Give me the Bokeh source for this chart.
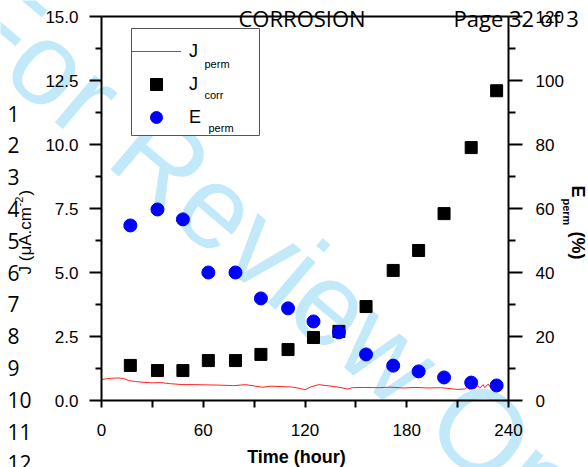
from bokeh.plotting import figure
from bokeh.models import (Range1d, LinearAxis, FixedTicker, Label, Legend,
                          LegendItem, NumeralTickFormatter, BoxAnnotation)
from bokeh.embed import file_html
from bokeh.resources import INLINE

# ---------------- data ----------------
sample_time = [17, 33, 48, 63, 79, 94, 110, 125, 140, 156, 172, 187, 202, 218, 233]
j_corr = [1.37, 1.17, 1.17, 1.56, 1.56, 1.80, 1.99, 2.46, 2.70, 3.67, 5.08, 5.86, 7.30, 9.88, 12.10]
e_perm = [54.7, 59.7, 56.6, 40.0, 40.0, 31.9, 28.8, 24.7, 21.3, 14.4, 10.9, 9.1, 7.2, 5.6, 4.7]

perm_time = [0, 3, 6, 10, 13, 16, 20, 25, 30, 35, 40, 48, 55, 62, 70, 78, 85, 90, 95,
             100, 107, 112, 117, 120, 123, 128, 133, 140, 145, 148, 155, 163, 170, 178,
             185, 193, 200, 205, 210, 214, 216, 217, 219, 220, 222, 223, 225, 226, 228,
             229, 231, 232, 233]
j_perm = [0.82, 0.85, 0.87, 0.88, 0.86, 0.78, 0.74, 0.71, 0.69, 0.70, 0.66, 0.62, 0.62,
          0.61, 0.60, 0.58, 0.62, 0.57, 0.52, 0.56, 0.54, 0.53, 0.47, 0.42, 0.52, 0.62,
          0.58, 0.52, 0.45, 0.50, 0.51, 0.50, 0.52, 0.49, 0.51, 0.49, 0.50, 0.47, 0.43,
          0.45, 0.52, 0.44, 0.56, 0.46, 0.58, 0.48, 0.62, 0.50, 0.64, 0.54, 0.66, 0.58, 0.62]

x_ticks = [0, 60, 120, 180, 240]
x_minor = [30, 90, 150, 210]
y_ticks = [0, 2.5, 5, 7.5, 10, 12.5, 15]
y_minor = [1.25, 3.75, 6.25, 8.75, 11.25, 13.75]
e_ticks = [0, 20, 40, 60, 80, 100, 120]
e_minor = [10, 30, 50, 70, 90, 110]

X0, X1, Y0, Y1, E0, E1 = 0, 240, 0, 15, 0, 120

# ---------------- page geometry (decorations only) ----------------
W, H = 588, 467
PX0, PX1, PY0, PY1 = 101, 508, 400, 16   # data box edges in page pixels


def hrange(lo, hi):
    k = (hi - lo) / (PX1 - PX0)
    return Range1d(lo - PX0 * k, hi + (W - PX1) * k)


def vrange(lo, hi):
    k = (hi - lo) / (PY0 - PY1)
    return Range1d(lo - (H - PY0) * k, hi + PY1 * k)


p = figure(width=W, height=H, output_backend="svg", toolbar_location=None,
           x_range=hrange(X0, X1), y_range=vrange(Y0, Y1), min_border=0)
p.extra_y_ranges = {"e": vrange(E0, E1)}
p.title.visible = False
p.xgrid.visible = False
p.ygrid.visible = False
p.background_fill_color = "white"
p.border_fill_color = "white"
p.outline_line_color = None

TICK_FONT = "Liberation Sans"


def sx(px):
    return px


def sy(py):
    return H - py


# watermark (beneath everything else)
p.add_layout(Label(x=sx(300), y=sy(277), x_units="screen", y_units="screen",
                   text="For Review Only", angle=-40.3, angle_units="deg",
                   text_align="center", text_baseline="middle",
                   text_font="Liberation Sans", text_font_size="117px",
                   text_color="#c2e9fa", level="underlay"))

# legend frame (white box hiding the watermark)
p.add_layout(BoxAnnotation(left=sx(131), right=sx(259), top=sy(28), bottom=sy(135),
                           left_units="screen", right_units="screen",
                           top_units="screen", bottom_units="screen",
                           fill_color="white", fill_alpha=1, line_color="#555555",
                           line_width=1, line_alpha=1, level="underlay"))

# axes (drawn at the data box edges)
xa = p.xaxis[0]
xa.ticker = FixedTicker(ticks=x_ticks, minor_ticks=x_minor)
xa.fixed_location = Y0
xa.bounds = (X0, X1)
ya = p.yaxis[0]
ya.ticker = FixedTicker(ticks=y_ticks, minor_ticks=y_minor)
ya.formatter = NumeralTickFormatter(format="0.0")
ya.fixed_location = X0
ya.bounds = (Y0, Y1)
ra = LinearAxis(y_range_name="e", ticker=FixedTicker(ticks=e_ticks, minor_ticks=e_minor),
                fixed_location=X1, bounds=(E0, E1))
p.add_layout(ra, "right")
ta = LinearAxis(ticker=FixedTicker(ticks=[], minor_ticks=[]), fixed_location=Y1,
                bounds=(X0, X1), major_label_text_alpha=0)
p.add_layout(ta, "above")

for ax in (xa, ya, ra, ta):
    ax.axis_line_width = 2
    ax.axis_line_color = "black"
    ax.major_tick_line_width = 2
    ax.minor_tick_line_width = 2
    ax.major_tick_in = 0
    ax.minor_tick_in = 0
    ax.major_label_text_font = TICK_FONT
    ax.major_label_text_font_size = "17px"
    ax.major_label_text_color = "black"

ta.major_tick_out = 0
ta.minor_tick_out = 0
xa.major_tick_out = 7
xa.minor_tick_out = 7
xa.major_label_standoff = 16
ya.major_tick_out = 12
ya.minor_tick_out = 6
ya.major_label_standoff = 11
ra.major_tick_out = 14
ra.minor_tick_out = 7
ra.major_label_standoff = 13

# data
line = p.line(perm_time, j_perm, line_color="#ff2020", line_width=1)
sq = p.scatter(sample_time, j_corr, marker="square", size=12, fill_color="black",
               line_color="black")
ci = p.scatter(sample_time, e_perm, marker="circle", size=13, fill_color="#0000ff",
               line_color="#0000ff", y_range_name="e")

legend = Legend(items=[LegendItem(label="J", renderers=[line]),
                       LegendItem(label="J", renderers=[sq]),
                       LegendItem(label="E", renderers=[ci])],
                location=(131, H - 132), margin=0, padding=6, spacing=3,
                glyph_width=50, glyph_height=30, label_standoff=8, label_width=58,
                label_text_font=TICK_FONT, label_text_font_size="18px",
                label_text_color="black", border_line_color=None,
                background_fill_alpha=0)
p.add_layout(legend)


def lab(px, py, text, size, font=TICK_FONT, style="normal", align="left",
        baseline="alphabetic", angle=0.0):
    p.add_layout(Label(x=sx(px), y=sy(py), x_units="screen", y_units="screen",
                       text=text, text_font=font, level="overlay",
                       text_font_size=size, text_font_style=style, text_align=align,
                       text_baseline=baseline, angle=angle, angle_units="deg",
                       text_color="black"))


# legend subscripts
lab(204, 63, "perm", "11px")
lab(204, 94, "corr", "11px")
lab(208, 127, "perm", "11px")

# axis titles
lab(296, 456, "Time (hour)", "18px", style="bold", align="center")
lab(25, 274, "J (μA.cm", "17px", angle=90)
lab(18, 206, "-2", "11px", angle=90)
lab(25, 195, ")", "17px", angle=90)
lab(577, 185, "E", "18px", style="bold", angle=-90)
lab(566, 198, "perm", "11px", style="bold", angle=-90)
lab(577, 231, "(%)", "18px", style="bold", angle=-90)

# page header and line numbers
lab(238, 17, "CORROSION", "22px", font="Open Sans")
lab(453, 17, "Page 32 of 3", "22px", font="Open Sans")
for i in range(12):
    lab(7, 113 + 31.8 * i, str(i + 1), "21px", font="Open Sans", baseline="middle")

open("out.html", "w").write(file_html(p, INLINE))
